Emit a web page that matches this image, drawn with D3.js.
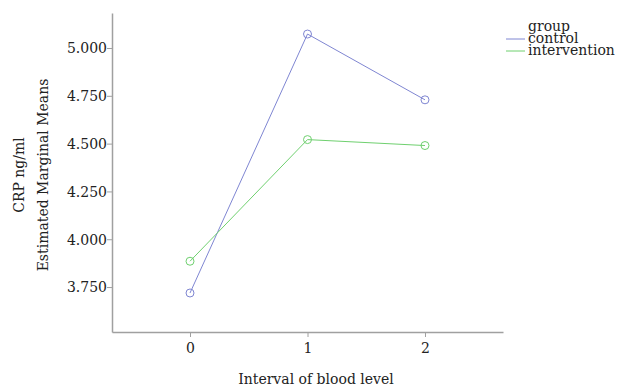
<!DOCTYPE html>
<html>
<head>
<meta charset="utf-8">
<script src="https://cdn.jsdelivr.net/npm/d3@7"></script>
<style>
  body { margin: 0; background: #fff; }
  svg text { font-family: "DejaVu Serif", serif; fill: #222; }
</style>
</head>
<body>
<svg id="chart" width="619" height="386"></svg>
<script>
// estimated marginal means
const intervals = [0, 1, 2];
const control = [3.719, 5.073, 4.729];
const intervention = [3.885, 4.521, 4.490];
const y_ticks = [3.75, 4.0, 4.25, 4.5, 4.75, 5.0];
const groups = ['control', 'intervention'];
const colors = ['#7f86d2', '#6fd06f'];

const svg = d3.select('#chart');

const plot_left = 112, plot_right = 503, plot_top = 13, plot_bottom = 332;

const xScale = d3.scaleLinear()
    .domain([-0.664, 2.664])
    .range([plot_left, plot_right]);

const yScale = d3.scaleLinear()
    .domain([3.515, 5.183])
    .range([plot_bottom, plot_top]);

// axes
const yAxis = svg.append('g')
    .attr('transform', `translate(${plot_left}, 0)`)
    .call(d3.axisLeft(yScale).tickValues(y_ticks).tickFormat(d3.format('.3f')).tickSize(5).tickSizeOuter(0));

const xAxis = svg.append('g')
    .attr('transform', `translate(0, ${plot_bottom})`)
    .call(d3.axisBottom(xScale).tickValues(intervals).tickFormat(d3.format('d')).tickSize(5).tickSizeOuter(0));

[xAxis, yAxis].forEach(function (ax) {
    ax.select('.domain').attr('stroke', '#a0a0a0').attr('stroke-width', 1.5);
    ax.selectAll('.tick line').attr('stroke', '#a0a0a0');
    ax.selectAll('.tick text')
        .attr('font-family', '"DejaVu Serif", serif')
        .attr('font-size', 14)
        .attr('fill', '#222');
});
yAxis.selectAll('.tick text').attr('x', -5).attr('dy', '0.35em');
xAxis.selectAll('.tick text').attr('y', 11);

// lines and markers
const series = [control, intervention];
const line = d3.line()
    .x((d, i) => xScale(intervals[i]))
    .y((d) => yScale(d));

series.forEach(function (values, k) {
    svg.append('path')
        .datum(values)
        .attr('fill', 'none')
        .attr('stroke', colors[k])
        .attr('stroke-width', 1)
        .attr('d', line);

    svg.selectAll(null)
        .data(values)
        .enter()
        .append('circle')
        .attr('cx', (d, i) => xScale(intervals[i]))
        .attr('cy', (d) => yScale(d))
        .attr('r', 4)
        .attr('fill', 'none')
        .attr('stroke', colors[k])
        .attr('stroke-width', 1);
});

// axis titles
svg.append('text')
    .attr('transform', 'translate(24, 175) rotate(-90)')
    .attr('text-anchor', 'middle')
    .attr('font-size', 14)
    .text('CRP ng/ml');

svg.append('text')
    .attr('transform', 'translate(48, 175) rotate(-90)')
    .attr('text-anchor', 'middle')
    .attr('font-size', 14)
    .text('Estimated Marginal Means');

svg.append('text')
    .attr('x', 316)
    .attr('y', 384)
    .attr('text-anchor', 'middle')
    .attr('font-size', 14)
    .text('Interval of blood level');

// legend
const legend = svg.append('g').attr('transform', 'translate(506, 0)');
legend.append('text')
    .attr('x', 22)
    .attr('y', 31)
    .attr('font-size', 14)
    .text('group');

groups.forEach(function (g, k) {
    const y = 43 + k * 12;
    legend.append('line')
        .attr('x1', 0)
        .attr('x2', 19)
        .attr('y1', y - 4)
        .attr('y2', y - 4)
        .attr('stroke', colors[k])
        .attr('stroke-width', 1);
    legend.append('text')
        .attr('x', 22)
        .attr('y', y)
        .attr('font-size', 14)
        .text(g);
});
</script>
</body>
</html>
